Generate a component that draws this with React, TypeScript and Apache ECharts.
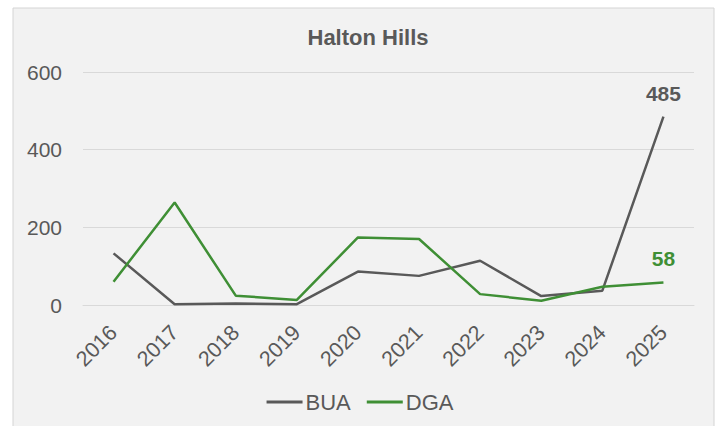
import React, { useEffect, useRef } from "react";
import * as echarts from "echarts";

const years = ["2016", "2017", "2018", "2019", "2020", "2021", "2022", "2023", "2024", "2025"];
const buaValues = [133, 2, 4, 2, 86, 75, 114, 23, 37, 485];
const dgaValues = [60, 264, 24, 13, 174, 170, 28, 11, 47, 58];
const yTicks = [0, 200, 400, 600];

const GRAY = "#595959";
const GREEN = "#3f8f35";
const FONT = "'Liberation Sans', Arial, sans-serif";

export default function App() {
  const ref = useRef<HTMLDivElement>(null);
  useEffect(() => {
    if (!ref.current) return;
    const chart = echarts.init(ref.current, undefined, { renderer: "svg" });
    const lastIdx = years.length - 1;
    const mkSeries = (name: string, data: number[], color: string) => ({
      name,
      type: "line",
      data: data.map((v, i) =>
        i === lastIdx
          ? {
              value: v,
              label: {
                show: true,
                position: "top",
                distance: 13,
                color,
                fontSize: 21,
                fontWeight: "bold",
                fontFamily: FONT,
              },
            }
          : v
      ),
      symbol: "circle",
      symbolSize: 0,
      showSymbol: true,
      showAllSymbol: true,
      lineStyle: { color, width: 2.5 },
      itemStyle: { color },
      z: name === "BUA" ? 3 : 4,
    });
    chart.setOption({
      animation: false,
      backgroundColor: "#ffffff",
      graphic: [
        {
          type: "rect",
          shape: { x: 13, y: 8, width: 701, height: 420 },
          style: { fill: "#f2f2f2", stroke: "#d4d4d4", lineWidth: 1 },
          z: -10,
          silent: true,
        },
      ],
      title: {
        text: "Halton Hills",
        left: 363,
        top: 21,
        textAlign: "center",
        textStyle: { color: GRAY, fontSize: 22, fontWeight: "bold", fontFamily: FONT },
      },
      legend: {
        data: ["BUA", "DGA"],
        left: "center",
        top: 386,
        itemWidth: 36,
        itemHeight: 3,
        itemGap: 16,
        icon: "rect",
        textStyle: { color: GRAY, fontSize: 22, fontFamily: FONT, padding: [0, 0, 0, -2] },
      },
      grid: { left: 83, right: 26, top: 72, bottom: 121 },
      xAxis: {
        type: "category",
        data: years,
        boundaryGap: true,
        axisLine: { show: true, lineStyle: { color: "#d9d9d9", width: 1 } },
        axisTick: { show: false },
        axisLabel: {
          rotate: 45,
          color: GRAY,
          fontSize: 21.5,
          fontFamily: FONT,
          margin: 24,
          interval: 0,
        },
      },
      yAxis: {
        type: "value",
        min: yTicks[0],
        max: yTicks[yTicks.length - 1],
        interval: 200,
        axisLine: { show: false },
        axisTick: { show: false },
        splitLine: { lineStyle: { color: "#d9d9d9", width: 1 } },
        axisLabel: { color: GRAY, fontSize: 21, fontFamily: FONT, margin: 21 },
      },
      series: [mkSeries("BUA", buaValues, GRAY), mkSeries("DGA", dgaValues, GREEN)],
    });
    return () => chart.dispose();
  }, []);
  return (
    <div style={{ position: "fixed", left: 0, top: 0, width: 720, height: 426 }}>
      <div ref={ref} style={{ width: 720, height: 426 }} />
    </div>
  );
}
